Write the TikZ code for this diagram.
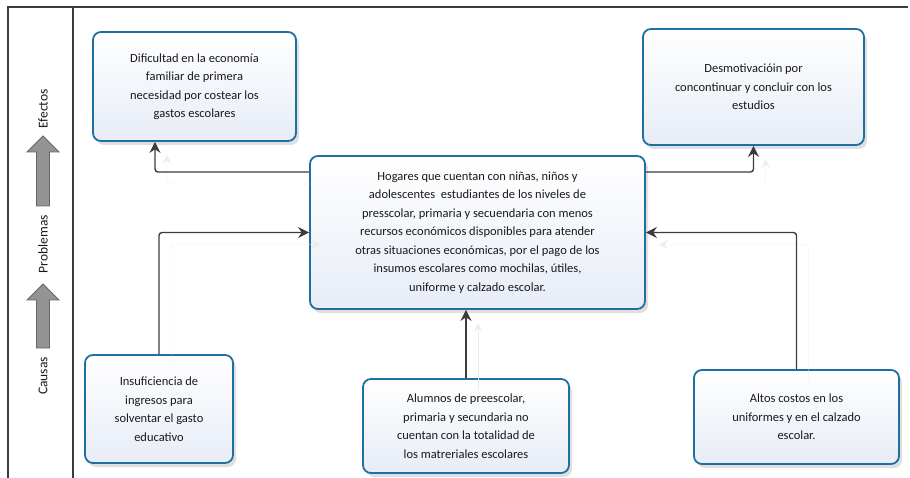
\documentclass[tikz,border=0pt]{standalone}
\usepackage{fontspec}
\setmainfont{Carlito}
\usetikzlibrary{arrows.meta,shadows}
\definecolor{boxblue}{RGB}{30,112,160}
\definecolor{boxfill}{RGB}{231,236,246}
\definecolor{linegray}{RGB}{60,60,60}

\begin{document}
\begin{tikzpicture}
  [x=1pt,y=-1pt,
   every node/.style={font=\fontsize{12.5}{18.5}\selectfont,text=black!90},
   box/.style={rectangle,rounded corners=8pt,draw=boxblue,line width=1.8pt,
     top color=white,bottom color=boxfill,align=center,inner sep=0pt,
     drop shadow={shadow xshift=3pt,shadow yshift=-4pt,opacity=.25}},
   conn/.style={draw=linegray,line width=1.4pt,rounded corners=3pt,
     -{Stealth[length=11pt,width=11pt]},
     preaction={draw=black!7,transform canvas={shift={(12pt,-12pt)}}}},
   side/.style={rotate=90,font=\fontsize{13.5}{15}\selectfont}]
  \useasboundingbox (0,0) rectangle (910,478);

  % frame and side labels
  \draw[linegray,line width=1.2pt] (8,478) -- (8,7) -- (908,7);
  \draw[linegray,line width=1.2pt] (73,7) -- (73,478);
  \foreach \t/\b in {136/206,284/348}
    \draw[draw=black!60,fill=black!42,line width=.8pt]
      (43,\t) -- (59,\t+16) -- (49.5,\t+16) -- (49.5,\b) -- (36.5,\b)
      -- (36.5,\t+16) -- (27,\t+16) -- cycle;
  \node[side] (lef) at (43,109) {Efectos};
  \node[side] (lpr) at (43,244) {Problemas};
  \node[side] (lca) at (43,376) {Causas};

  % effects
  \node[box,minimum width=203pt,minimum height=109pt] (e1) at (194.5,86.5)
    {Dificultad en la economía\\familiar de primera\\necesidad por costear los\\gastos escolares};
  \node[box,minimum width=221pt,minimum height=116pt] (e2) at (753.5,87)
    {Desmotivacióin por\\concontinuar y concluir con los\\estudios};

  % problem
  \node[box,minimum width=335pt,minimum height=153pt] (c) at (477.5,232.5)
    {Hogares que cuentan con niñas, niños y\\adolescentes\ \ estudiantes de los niveles de\\presscolar, primaria y secuendaria con menos\\recursos económicos disponibles para atender\\otras situaciones económicas, por el pago de los\\insumos escolares como mochilas, útiles,\\uniforme y calzado escolar.};

  % causes
  \node[box,minimum width=148pt,minimum height=108pt] (k1) at (159,409)
    {Insuficiencia de\\ingresos para\\solventar el gasto\\educativo};
  \node[box,minimum width=206pt,minimum height=94pt] (k2) at (466,426)
    {Alumnos de preescolar,\\primaria y secundaria no\\cuentan con la totalidad de\\los matreriales escolares};
  \node[box,minimum width=205pt,minimum height=94pt] (k3) at (796.5,417)
    {Altos costos en los\\uniformes y en el calzado\\escolar.};

  % connectors
  \coordinate (b1) at (155,172);
  \coordinate (b2) at (753,172);
  \draw[conn] (c.west |- b1) -| (e1.south -| b1);
  \draw[conn] (c.east |- b2) -| (e2);
  \draw[conn] (k1) |- (c);
  \draw[conn] (k3) |- (c);
  \draw[conn] (k2) -- (k2 |- c.south);
\end{tikzpicture}
\end{document}
